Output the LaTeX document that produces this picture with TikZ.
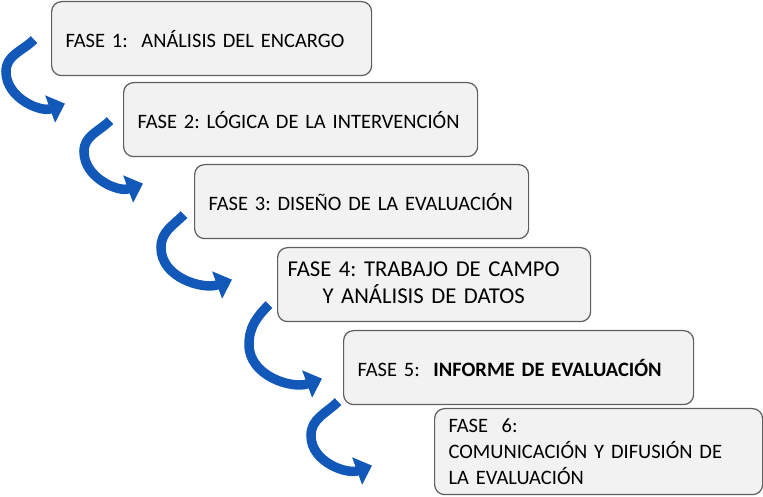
\documentclass[tikz,border=0pt]{standalone}
\usepackage{fontspec}
\setmainfont{Carlito}
\usepackage{xcolor}
\usepackage{tikz}
\usetikzlibrary{positioning,arrows.meta,calc}

\definecolor{cajagris}{RGB}{242,242,242}
\definecolor{bordegris}{RGB}{95,95,95}
\definecolor{azulflecha}{RGB}{18,88,184}

\begin{document}
\frenchspacing
\begin{tikzpicture}[
    fase/.style={rectangle, draw=bordegris, fill=cajagris, line width=0.7pt, rounded corners=0.2cm, anchor=north west, minimum height=1.48cm, text width=#1, inner xsep=0.28cm, align=left, font=\fontsize{11.65}{15}\selectfont},
    flecha/.style={-{Triangle[width=16pt,length=9pt]}, line width=0.19cm, draw=azulflecha},
]
\useasboundingbox (0,0) rectangle (15.26,-9.94);

\node[fase=5.84cm] (f1) at (1.02,-0.02) {\mbox{FASE 1:\ \ ANÁLISIS DEL ENCARGO}};
\node[fase=6.52cm] (f2) at (2.46,-1.64) {\mbox{FASE 2: LÓGICA DE LA INTERVENCIÓN}};
\node[fase=6.12cm] (f3) at (3.88,-3.28) {\mbox{FASE 3: DISEÑO DE LA EVALUACIÓN}};
\node[fase=5.86cm, inner xsep=0.2cm, font=\fontsize{12.9}{15.5}\selectfont] (f4) at (5.54,-4.94) {\begin{tabular}{@{}c@{}}FASE 4: TRABAJO DE CAMPO\\ Y ANÁLISIS DE DATOS\end{tabular}};
\node[fase=6.44cm] (f5) at (6.86,-6.60) {\mbox{FASE 5:\ \ \textbf{INFORME DE EVALUACIÓN}}};
\node[fase=6.00cm, minimum height=1.72cm] (f6) at (8.68,-8.16) {FASE\ \ 6:\\ COMUNICACIÓN Y DIFUSIÓN\ DE\\ LA EVALUACIÓN};

% flechas curvas entre fases
\draw[flecha] ($(f1.west)+(-0.34,-0.02)$) to[out=225,in=90] ++(-0.56,-0.64) to[out=270,in=200] ($(f2.west)+(-1.16,0.32)$);
\draw[flecha] ($(f2.west)+(-0.26,-0.02)$) to[out=225,in=90] ++(-0.52,-0.62) to[out=270,in=200] ($(f3.west)+(-1.02,0.36)$);
\draw[flecha] ($(f3.west)+(-0.20,-0.26)$) to[out=225,in=90] ++(-0.46,-0.66) to[out=270,in=200] ($(f4.west)+(-0.90,0.10)$);
\draw[flecha] ($(f4.west)+(-0.16,-0.40)$) to[out=225,in=90] ++(-0.40,-0.80) to[out=270,in=200] ($(f5.west)+(-0.42,-0.22)$);
\draw[flecha] ($(f5.west)+(-0.10,-0.68)$) to[out=225,in=90] ++(-0.54,-0.68) to[out=270,in=200] ($(f6.west)+(-1.24,-0.28)$);
\end{tikzpicture}
\end{document}
